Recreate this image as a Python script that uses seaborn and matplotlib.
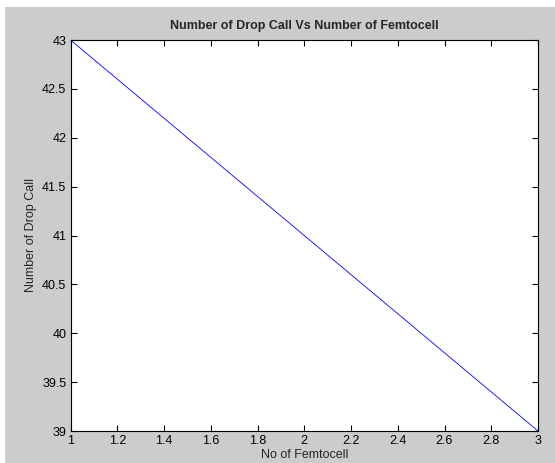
import matplotlib
matplotlib.use("Agg")
import matplotlib.pyplot as plt
import seaborn as sns
import pandas as pd
from matplotlib.patches import Rectangle

femtocells = [1, 2, 3]
drop_calls = [43, 41, 39]
xticks = [1, 1.2, 1.4, 1.6, 1.8, 2, 2.2, 2.4, 2.6, 2.8, 3]
xticklabels = ["1", "1.2", "1.4", "1.6", "1.8", "2", "2.2", "2.4", "2.6", "2.8", "3"]
yticks = [39, 39.5, 40, 40.5, 41, 41.5, 42, 42.5, 43]
yticklabels = ["39", "39.5", "40", "40.5", "41", "41.5", "42", "42.5", "43"]

sns.set_style("ticks")
plt.rcParams['font.family'] = ['Liberation Sans', 'DejaVu Sans']

fig = plt.figure(figsize=(5.55, 4.63), dpi=100)
fig.patch.set_facecolor("white")
bg = Rectangle((5/555, 0), 1 - 5/555, 456/463, transform=fig.transFigure,
               facecolor="#cccccc", edgecolor="none", zorder=-10)
fig.add_artist(bg)
ax = fig.add_axes([70.5/555, (463-431)/463, (538-70.5)/555, (431-40)/463])
ax.set_zorder(5)
ax.set_facecolor("white")

df = pd.DataFrame({"x": femtocells, "y": drop_calls})
sns.lineplot(data=df, x="x", y="y", ax=ax, color="#0000ff", linewidth=0.6)

ax.set_xlim(1, 3)
ax.set_ylim(39, 43)
ax.set_xticks(xticks)
ax.set_xticklabels(xticklabels)
ax.set_yticks(yticks)
ax.set_yticklabels(yticklabels)
ax.tick_params(direction="in", top=True, right=True, length=4, width=0.8,
               labelsize=9, colors="black", pad=3)
for s in ax.spines.values():
    s.set_visible(True)
    s.set_color("black")
    s.set_linewidth(0.8)
ax.set_xlabel("No of Femtocell", fontsize=9, labelpad=1)
ax.set_ylabel("Number of Drop Call", fontsize=9, labelpad=4)
ax.set_title("Number of Drop Call Vs Number of Femtocell", fontsize=9, fontweight="bold", pad=8)

fig.savefig("out.png", dpi=100, facecolor=fig.get_facecolor())
